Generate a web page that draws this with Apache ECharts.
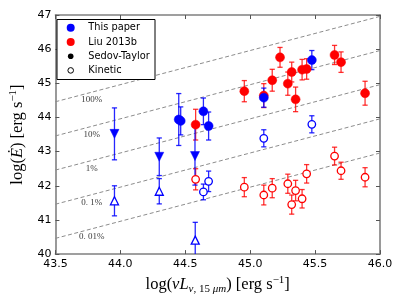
<!DOCTYPE html>
<html><head><meta charset="utf-8">
<script src="https://cdn.jsdelivr.net/npm/echarts@6/dist/echarts.min.js"></script>
<style>html,body{margin:0;padding:0;background:#fff}#c{width:400px;height:300px}</style>
</head><body><div id="c"></div>
<script>
// ---- data ----
// This paper, Sedov-Taylor (filled circles)
const tpST_L   = [44.45, 44.465, 44.64, 44.68, 45.105, 45.475];
const tpST_E   = [43.94, 43.90, 44.18, 43.75, 44.58, 45.68];
const tpST_err = [0.76, 0.41, 0.39, 0.41, 0.28, 0.28];
// This paper, Sedov-Taylor upper limits (filled down triangles)
const tpSTlim_L   = [43.955, 44.30, 44.575];
const tpSTlim_E   = [43.52, 42.85, 42.87];
const tpSTlim_err = [0.76, 0.55, 0.85];
// This paper, Kinetic (open circles)
const tpK_L   = [44.64, 44.68, 45.105, 45.475];
const tpK_E   = [41.82, 42.13, 43.39, 43.80];
const tpK_err = [0.23, 0.30, 0.25, 0.25];
// This paper, Kinetic lower limits (open up triangles)
const tpKlim_L   = [43.955, 44.30, 44.577];
const tpKlim_E   = [41.56, 41.84, 40.41];
const tpKlim_err = [0.44, 0.37, 0.52];
// Liu 2013b, Sedov-Taylor (filled circles)
const liuST_L   = [44.58, 44.955, 45.105, 45.17, 45.23, 45.29, 45.32, 45.35, 45.40, 45.435, 45.65, 45.70, 45.885];
const liuST_E   = [43.79, 44.77, 44.64, 45.09, 45.76, 44.99, 45.33, 44.53, 45.40, 45.42, 45.83, 45.62, 44.71];
const liuST_err = [0.45, 0.31, 0.35, 0.32, 0.29, 0.34, 0.29, 0.36, 0.30, 0.30, 0.28, 0.30, 0.35];
// Liu 2013b, Kinetic (open circles)
const liuK_L   = [44.58, 44.955, 45.105, 45.17, 45.29, 45.32, 45.35, 45.40, 45.435, 45.65, 45.70, 45.885];
const liuK_E   = [42.19, 41.96, 41.73, 41.93, 42.06, 41.45, 41.86, 41.62, 42.35, 42.87, 42.44, 42.25];
const liuK_err = [0.31, 0.28, 0.29, 0.28, 0.28, 0.28, 0.30, 0.27, 0.27, 0.26, 0.25, 0.28];
// efficiency lines: log E = log L + zeroPoint + log10(fraction)
const lineFractions = [1, 0.1, 0.01, 0.001, 0.0001];
const lineLabels = ['100%', '10%', '1%', '0. 1%', '0. 01%'];
const lineZeroPoint = 0.96;
const xTicks = [43.5, 44.0, 44.5, 45.0, 45.5, 46.0];
const yTicks = [40, 41, 42, 43, 44, 45, 46, 47];
const legendNames = ['This paper', 'Liu 2013b', 'Sedov-Taylor', 'Kinetic'];

const BLUE = '#0000ff', RED = '#ff0000';
const xMin = xTicks[0], xMax = xTicks[xTicks.length - 1];
const yMin = yTicks[0], yMax = yTicks[yTicks.length - 1];

function zip3(a, b, c) { return a.map((v, i) => [v, b[i], c[i]]); }

function errSeries(L, E, err, color, opacity) {
  return {
    type: 'custom', clip: true, z: 3,
    data: zip3(L, E, err),
    renderItem: function (params, api) {
      const x = api.value(0), y = api.value(1), e = api.value(2);
      const t = api.coord([x, y + e]), b = api.coord([x, y - e]);
      const c = 2.6;
      const st = { stroke: color, lineWidth: 1.3, opacity: opacity };
      return { type: 'group', children: [
        { type: 'line', shape: { x1: t[0], y1: t[1], x2: b[0], y2: b[1] }, style: st },
        { type: 'line', shape: { x1: t[0] - c, y1: t[1], x2: t[0] + c, y2: t[1] }, style: st },
        { type: 'line', shape: { x1: b[0] - c, y1: b[1], x2: b[0] + c, y2: b[1] }, style: st }
      ]};
    }
  };
}
function markSeries(L, E, color, filled, symbol, size, rotate) {
  return {
    type: 'scatter', z: 4, symbol: symbol, symbolSize: size, symbolRotate: rotate || 0,
    data: L.map((v, i) => [v, E[i]]),
    itemStyle: filled ? { color: color, borderColor: color, borderWidth: 0.5, opacity: 1 }
                      : { color: '#ffffff', borderColor: color, borderWidth: 1.3, opacity: 1 },
    emphasis: { disabled: true }
  };
}

const series = [];
lineFractions.forEach((f, i) => {
  const off = lineZeroPoint + Math.log10(f);
  series.push({
    type: 'line', z: 1, symbol: 'none', silent: true,
    data: [[xMin, xMin + off], [xMax, xMax + off]],
    lineStyle: { color: '#8c8c8c', width: 1, type: [4, 2.5] }
  });
});
// line labels, placed just under each line near the left edge
series.push({
  type: 'scatter', z: 2, symbolSize: 0, silent: true,
  data: lineFractions.map((f, i) => {
    const lx = 43.78;
    return { value: [lx, lx + lineZeroPoint + Math.log10(f) - 0.23], name: lineLabels[i] };
  }),
  label: { show: true, position: 'inside', formatter: p => p.name,
           fontFamily: 'Liberation Serif', fontSize: 9, color: '#000' }
});

series.push(errSeries(liuK_L, liuK_E, liuK_err, RED, 0.8));
series.push(markSeries(liuK_L, liuK_E, RED, false, 'circle', 7.5));
series.push(errSeries(liuST_L, liuST_E, liuST_err, RED, 0.8));
series.push(markSeries(liuST_L, liuST_E, RED, true, 'circle', 9));
series.push(errSeries(tpKlim_L, tpKlim_E, tpKlim_err, BLUE, 0.85));
series.push(markSeries(tpKlim_L, tpKlim_E, BLUE, false, 'triangle', 8));
series.push(errSeries(tpK_L, tpK_E, tpK_err, BLUE, 0.85));
series.push(markSeries(tpK_L, tpK_E, BLUE, false, 'circle', 7.5));
series.push(errSeries(tpSTlim_L, tpSTlim_E, tpSTlim_err, BLUE, 0.85));
series.push(markSeries(tpSTlim_L, tpSTlim_E, BLUE, true, 'triangle', 9, 180));
series.push(errSeries(tpST_L, tpST_E, tpST_err, BLUE, 0.85));
series.push(markSeries(tpST_L, tpST_E, BLUE, true, 'circle', 9));

const axisLineStyle = { color: '#808080', width: 1.6 };
const tickStyle = { show: true, inside: true, length: 4, lineStyle: { color: '#555', width: 1 } };
const tickFont = { fontFamily: 'DejaVu Sans', fontSize: 11, color: '#000' };

// legend drawn as graphics
const lx0 = 57, ly0 = 19.5, lw = 98, lh = 60, rowGap = 14.2, rowTop = 27.8;
const legendMarks = [
  { type: 'circle', shape: { r: 4 }, style: { fill: BLUE } },
  { type: 'circle', shape: { r: 4 }, style: { fill: RED } },
  { type: 'circle', shape: { r: 2.8 }, style: { fill: '#000' } },
  { type: 'circle', shape: { r: 2.8 }, style: { fill: '#fff', stroke: '#000', lineWidth: 1 } }
];
const graphic = [{ type: 'rect', z: 10, shape: { x: lx0, y: ly0, width: lw, height: lh },
                   style: { fill: '#fff', stroke: '#000', lineWidth: 1 } }];
legendNames.forEach((n, i) => {
  const cy = rowTop + i * rowGap;
  const m = legendMarks[i];
  graphic.push(Object.assign({ z: 11, x: 70.7, y: cy }, m));
  graphic.push({ type: 'text', z: 11, x: 88.3, y: cy,
    style: { text: n, fontFamily: 'DejaVu Sans', fontSize: 9.8, fill: '#000', verticalAlign: 'middle', align: 'left' } });
});

const option = {
  animation: false,
  grid: { left: 51, right: 20, top: 15, bottom: 41, containLabel: false },
  xAxis: [
    { type: 'value', min: xMin, max: xMax, interval: 0.5, position: 'bottom',
      axisLine: { show: true, onZero: false, lineStyle: axisLineStyle },
      axisTick: tickStyle, splitLine: { show: false },
      axisLabel: Object.assign({ margin: 5, formatter: v => v.toFixed(1) }, tickFont),
      name: '{t|log(}{i|νL}{s|ν}{u|, 15 }{s|μm}{t|) [erg s}{p|−1}{t|]}',
      nameLocation: 'middle', nameGap: 20,
      nameTextStyle: { rich: {
        t: { fontFamily: 'Liberation Serif', fontSize: 16.5, color: '#000' },
        i: { fontFamily: 'Liberation Serif', fontSize: 16.5, fontStyle: 'italic', color: '#000' },
        s: { fontFamily: 'Liberation Serif', fontSize: 11, fontStyle: 'italic', color: '#000', padding: [9, 0, 0, 0] },
        u: { fontFamily: 'Liberation Serif', fontSize: 11, color: '#000', padding: [9, 0, 0, 0] },
        p: { fontFamily: 'Liberation Serif', fontSize: 11, color: '#000', padding: [0, 0, 9, 0] }
      } } },
    { type: 'value', min: xMin, max: xMax, interval: 0.5, position: 'top',
      axisLine: { show: true, onZero: false, lineStyle: axisLineStyle },
      axisTick: tickStyle, axisLabel: { show: false }, splitLine: { show: false } }
  ],
  yAxis: [
    { type: 'value', min: yMin, max: yMax, interval: 1, position: 'left',
      axisLine: { show: true, onZero: false, lineStyle: axisLineStyle },
      axisTick: tickStyle, splitLine: { show: false },
      axisLabel: Object.assign({ margin: 4 }, tickFont),
      name: '{t|log(}{i|Ė}{t|) [erg s}{p|−1}{t|]}',
      nameLocation: 'middle', nameGap: 22, nameRotate: 90,
      nameTextStyle: { rich: {
        t: { fontFamily: 'Liberation Serif', fontSize: 16.5, color: '#000' },
        i: { fontFamily: 'Liberation Serif', fontSize: 16.5, fontStyle: 'italic', color: '#000' },
        p: { fontFamily: 'Liberation Serif', fontSize: 11, color: '#000', padding: [0, 0, 9, 0] }
      } } },
    { type: 'value', min: yMin, max: yMax, interval: 1, position: 'right',
      axisLine: { show: true, onZero: false, lineStyle: axisLineStyle },
      axisTick: tickStyle, axisLabel: { show: false }, splitLine: { show: false } }
  ],
  graphic: graphic,
  series: series
};
const chart = echarts.init(document.getElementById('c'), null, { renderer: 'canvas' });
chart.setOption(option);
</script></body></html>
